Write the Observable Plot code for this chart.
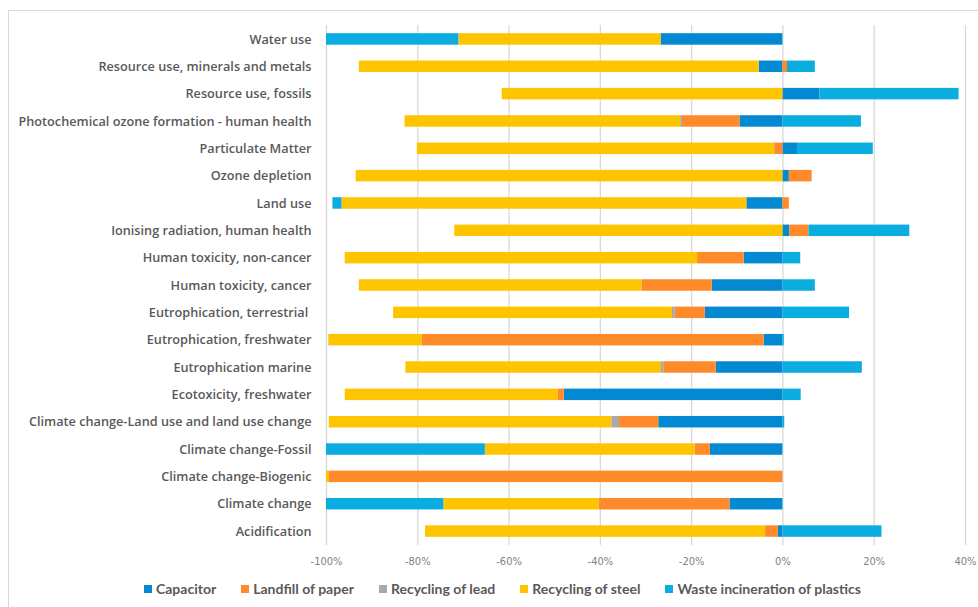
<!DOCTYPE html>
<html>
<head>
<meta charset="utf-8">
<script src="https://cdn.jsdelivr.net/npm/d3@7"></script>
<script src="https://cdn.jsdelivr.net/npm/@observablehq/plot@0.6"></script>
<style>
  html, body { margin: 0; padding: 0; background: #fff; }
  #wrap { position: relative; width: 978px; height: 607px; overflow: hidden; }
  #frame { position: absolute; left: 8px; top: 10px; width: 1000px; height: 700px;
           border-left: 1.5px solid #d9d9d9; border-top: 1.5px solid #d9d9d9; }
  #chart { position: absolute; left: 0; top: 0; }
  #legend { position: absolute; left: 144px; top: 580px; display: flex; align-items: center;
            font-family: Lato, "Open Sans", sans-serif; font-weight: 700; font-size: 14px; color: #595959; white-space: nowrap; }
  .item { display: flex; align-items: center; margin-right: 25px; }
  .sw { width: 8px; height: 8px; margin-right: 4px; }
</style>
</head>
<body>
<div id="wrap">
  <div id="frame"></div>
  <div id="chart"></div>
  <div id="legend"></div>
</div>
<script>
const categories = [
  "Water use",
  "Resource use, minerals and metals",
  "Resource use, fossils",
  "Photochemical ozone formation - human health",
  "Particulate Matter",
  "Ozone depletion",
  "Land use",
  "Ionising radiation, human health",
  "Human toxicity, non-cancer",
  "Human toxicity, cancer",
  "Eutrophication, terrestrial ",
  "Eutrophication, freshwater",
  "Eutrophication marine",
  "Ecotoxicity, freshwater",
  "Climate change-Land use and land use change",
  "Climate change-Fossil",
  "Climate change-Biogenic",
  "Climate change",
  "Acidification"
];
const seriesNames = ["Capacitor", "Landfill of paper", "Recycling of lead", "Recycling of steel", "Waste incineration of plastics"];
const seriesColors = ["#0289d2", "#ff8a2a", "#a9a9a9", "#ffc400", "#0badE0"];

const capacitor = [-26.7, -5.2, 8.1, -9.4, 3.2, 1.4, -7.9, 1.5, -8.5, -15.5, -17.0, -4.1, -14.6, -47.9, -27.2, -15.9, 0, -11.6, -1.0];
const landfillPaper = [0, 1.0, 0, -12.6, -1.8, 5.0, 1.4, 4.2, -10.2, -15.4, -6.6, -74.9, -11.5, -1.4, -8.6, -3.3, -99.5, -28.7, -2.8];
const recyclingLead = [0, 0, 0, -0.4, 0, 0, 0, 0, 0, 0, -0.6, 0, -0.5, 0, -1.7, 0, 0, 0, 0];
const recyclingSteel = [-44.3, -87.6, -61.5, -60.4, -78.3, -93.5, -88.7, -71.9, -77.2, -61.9, -61.1, -20.5, -56.0, -46.6, -61.9, -46.0, -0.5, -34.0, -74.5];
const incinerationPlastics = [-29.0, 6.1, 30.5, 17.2, 16.6, 0, -2.0, 22.1, 3.9, 7.1, 14.6, 0.3, 17.4, 4.0, 0.4, -34.8, 0, -25.7, 21.7];
const xTicks = [-100, -80, -60, -40, -20, 0, 20, 40];

const seriesValues = [capacitor, landfillPaper, recyclingLead, recyclingSteel, incinerationPlastics];
const data = [];
seriesNames.forEach((s, si) => {
  categories.forEach((c, ci) => {
    data.push({category: c, series: s, value: seriesValues[si][ci]});
  });
});

const chart = Plot.plot({
  width: 978,
  height: 575,
  marginTop: 25,
  marginBottom: 30,
  marginLeft: 326,
  marginRight: 13,
  style: {background: "transparent"},
  x: {domain: [-100, 40], ticks: xTicks, tickFormat: d => d + "%", label: null},
  y: {domain: categories, paddingInner: 0.58, paddingOuter: 0.3, round: false, label: null},
  color: {domain: seriesNames, range: seriesColors},
  marks: [
    Plot.gridX(xTicks, {stroke: "#d9d9d9", strokeOpacity: 1, strokeWidth: 1.3}),
    Plot.barX(data, Plot.stackX({x: "value", y: "category", fill: "series", order: null})),
    Plot.axisX(xTicks, {tickSize: 0, tickPadding: 12, tickFormat: d => d + "%",
      fontFamily: "'Liberation Sans Narrow', 'DejaVu Sans Condensed', Lato, sans-serif",
      fontSize: 11, fill: "#7f7f7f", label: null}),
    Plot.axisY({tickSize: 0, tickPadding: 15, fontFamily: "'Open Sans', sans-serif",
      fontWeight: 600, fontSize: 12.7, fill: "#595959", label: null})
  ]
});
document.getElementById("chart").appendChild(chart);

const legend = document.getElementById("legend");
seriesNames.forEach((s, i) => {
  const it = document.createElement("div");
  it.className = "item";
  const sw = document.createElement("div");
  sw.className = "sw";
  sw.style.background = seriesColors[i];
  const t = document.createElement("span");
  t.textContent = s;
  it.appendChild(sw); it.appendChild(t);
  legend.appendChild(it);
});
</script>
</body>
</html>
